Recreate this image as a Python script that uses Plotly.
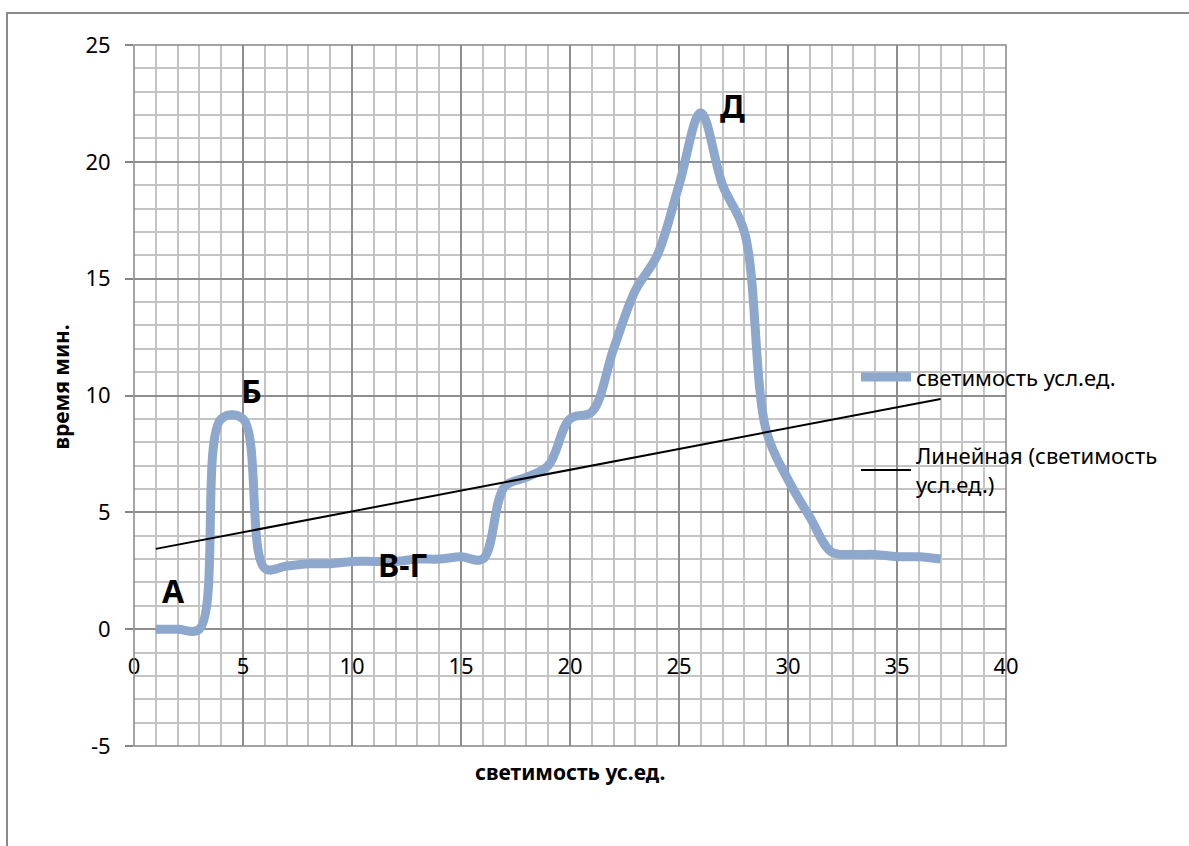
import numpy as np
import plotly.graph_objects as go

# luminosity series (conventional units) vs. time
x_vals = list(range(1, 38))
y_vals = [0, 0, 0, 9, 9, 2.6, 2.7, 2.8, 2.8, 2.9,
          2.9, 2.9, 3.0, 3.0, 3.1, 3.0, 6.1, 6.5, 7.0, 9.0,
          9.3, 12.0, 14.5, 16.0, 19.0, 22.1, 19.0, 17.0, 8.5, 6.4,
          4.8, 3.3, 3.2, 3.2, 3.1, 3.1, 3.0]

series_name = "светимость усл.ед."
trend_name = "Линейная (светимость<br>усл.ед.)"
x_title = "светимость ус.ед."
y_title = "время мин."

x_ticks = [0, 5, 10, 15, 20, 25, 30, 35, 40]
y_ticks = [-5, 0, 5, 10, 15, 20, 25]

# phase labels along the curve
phase_text = ["А", "Б", "В-Г", "Д"]
phase_x = [1.8, 5.4, 12.3, 27.45]
phase_y = [1.65, 10.2, 2.75, 22.4]

# least-squares linear trend over the series
slope, intercept = np.polyfit(x_vals, y_vals, 1)
trend_x = [x_vals[0], x_vals[-1]]
trend_y = [slope * v + intercept for v in trend_x]

FONT = "Noto Sans"
GRID_MAJOR = "#8e8e8e"
GRID_MINOR = "#c4c4c4"

fig = go.Figure()
fig.add_trace(go.Scatter(
    x=x_vals, y=y_vals, mode="lines", name=series_name, legendgroup="series",
    line=dict(color="#8EA7CD", width=9, shape="spline", smoothing=1.0),
))
fig.add_trace(go.Scatter(
    x=trend_x, y=trend_y, mode="lines", name=trend_name, legendgroup="trend",
    line=dict(color="#000000", width=2),
))

# x axis crosses the y axis at zero
y_lo, y_hi = -5, 25
cross = (0 - y_lo) / (y_hi - y_lo)

fig.update_xaxes(
    range=[0, 40], tickvals=x_ticks, ticktext=[str(v) for v in x_ticks],
    anchor="free", position=cross,
    showgrid=True, gridcolor=GRID_MAJOR, gridwidth=1.5,
    minor=dict(dtick=1, tick0=0, showgrid=True, gridcolor=GRID_MINOR, gridwidth=1.5),
    zeroline=False, showline=False, ticks="", ticklabelstandoff=22,
    tickfont=dict(family=FONT, size=22, color="#000000"),
)
fig.update_yaxes(
    range=[y_lo, y_hi], tickvals=y_ticks, ticktext=[str(v) for v in y_ticks],
    showgrid=True, gridcolor=GRID_MAJOR, gridwidth=1.5,
    minor=dict(dtick=1, tick0=0, showgrid=True, gridcolor=GRID_MINOR, gridwidth=1.5),
    zeroline=True, zerolinecolor=GRID_MAJOR, zerolinewidth=1.5,
    showline=False, ticks="outside", ticklen=8, tickcolor="#868686", tickwidth=1.5,
    ticklabelstandoff=10,
    tickfont=dict(family=FONT, size=22, color="#000000"),
)

annotations = [
    dict(text=t, x=xv, y=yv, xref="x", yref="y", showarrow=False,
         font=dict(family=FONT, size=32, color="#000000", weight="bold"))
    for t, xv, yv in zip(phase_text, phase_x, phase_y)
]
annotations.append(dict(
    text=x_title, x=0.5, y=0, xref="paper", yref="paper", xanchor="center",
    yanchor="top", yshift=-10, showarrow=False,
    font=dict(family=FONT, size=21, color="#000000", weight="bold"),
))
annotations.append(dict(
    text=y_title, x=0, y=0.5, xref="paper", yref="paper", xanchor="center",
    yanchor="middle", xshift=-74, yshift=8, textangle=-90, showarrow=False,
    font=dict(family=FONT, size=21, color="#000000", weight="bold"),
))

W, H = 1189, 846
ml, mr, mt, mb = 134, 183, 45, 100
pw, ph = W - ml - mr, H - mt - mb

shapes = [
    # plot area frame
    dict(type="rect", xref="paper", yref="paper", x0=0, x1=1, y0=0, y1=1,
         line=dict(color="#868686", width=1.5), layer="above"),
    # chart frame
    dict(type="rect", xref="paper", yref="paper",
         x0=(7 - ml) / pw, x1=(W + 10 - ml) / pw,
         y0=-(H + 10 - mt - ph) / ph, y1=1 + (mt - 13) / ph,
         line=dict(color="#8a8a8a", width=2)),
]

fig.update_layout(
    width=W, height=H,
    margin=dict(l=ml, r=mr, t=mt, b=mb),
    paper_bgcolor="#ffffff", plot_bgcolor="#ffffff",
    showlegend=True,
    legend=dict(x=0.828, y=0.556, xanchor="left", yanchor="top",
                bgcolor="rgba(0,0,0,0)", borderwidth=0,
                font=dict(family=FONT, size=22, color="#000000"),
                tracegroupgap=47, itemwidth=50),
    annotations=annotations,
    shapes=shapes,
)

fig.write_html("out.html")
